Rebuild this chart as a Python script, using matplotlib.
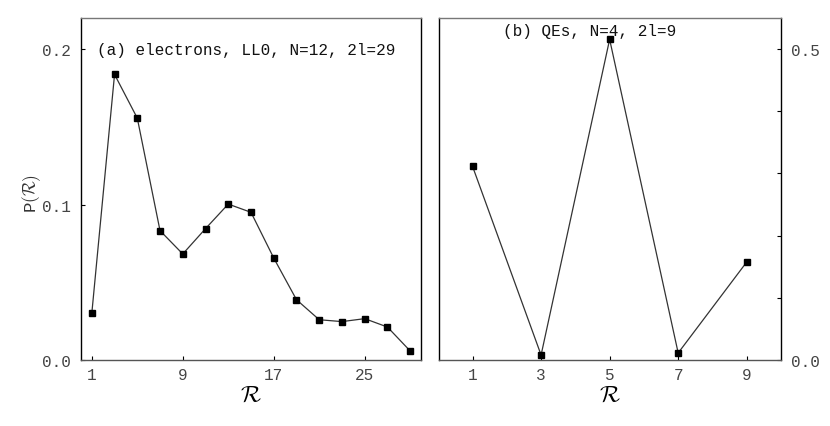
import matplotlib
matplotlib.use("Agg")
import matplotlib.pyplot as plt

plt.rcParams['mathtext.fontset'] = 'cm'

# Panel (a): electrons, LL0, N=12, 2l=29
R_a = [1, 3, 5, 7, 9, 11, 13, 15, 17, 19, 21, 23, 25, 27, 29]
P_a = [0.030, 0.1837, 0.1556, 0.0832, 0.0682, 0.0845, 0.1003, 0.0950,
       0.0656, 0.0388, 0.0259, 0.0247, 0.0266, 0.0212, 0.0058]
xticks_a = [1, 9, 17, 25]
yticks_a = [0.0, 0.1, 0.2]
yticklabels_a = ["0.0", "0.1", "0.2"]

# Panel (b): QEs, N=4, 2l=9
R_b = [1, 3, 5, 7, 9]
P_b = [0.3114, 0.008, 0.5156, 0.0113, 0.1576]
xticks_b = [1, 3, 5, 7, 9]
yticks_b = [0.0, 0.1, 0.2, 0.3, 0.4, 0.5]
yticklabels_b = ["0.0", "", "", "", "", "0.5"]

title_a = "(a) electrons, LL0, N=12, 2l=29"
title_b = "(b) QEs, N=4, 2l=9"

mono = "Liberation Mono"
fs = 11.5
tick_col = "#444444"

fig = plt.figure(figsize=(8.3, 4.27), dpi=100)
ax1 = fig.add_axes([81/830, 1-361/427, (421-81)/830, (361-19)/427])
ax2 = fig.add_axes([439.3/830, 1-361/427, (781-439.3)/830, (361-19)/427])

line_kw = dict(color="#333333", lw=0.9, marker="s", ms=4.6,
               mfc="black", mec="black", clip_on=False)

ax1.plot(R_a, P_a, **line_kw)
ax1.set_xlim(0.05, 29.95)
ax1.set_ylim(0, 0.22)
ax1.set_xticks(xticks_a)
ax1.set_xticklabels([str(v) for v in xticks_a])
ax1.set_yticks(yticks_a)
ax1.set_yticklabels(yticklabels_a)
ax1.tick_params(direction="in", length=3, width=0.8, colors="black",
                labelcolor=tick_col, labelsize=fs)
ax1.tick_params(axis="y", pad=7)
ax1.tick_params(axis="x", pad=5)
for lab in ax1.get_xticklabels() + ax1.get_yticklabels():
    lab.set_family(mono)
ax1.set_xlabel(r"$\mathcal{R}$", fontsize=17, labelpad=-1)
ax1.set_ylabel(r"P$(\mathcal{R})$", fontsize=12.5, family=mono, labelpad=2,
               color="#333333")
ax1.yaxis.set_label_coords(-0.111, 0.49)
ax1.text(1.0 + (97 - 91.7) / 11.39, 0.2, title_a, family=mono, fontsize=fs,
         va="center", ha="left", color="#111111")

ax2.plot(R_b, P_b, **line_kw)
ax2.set_xlim(0.03, 10.0)
ax2.set_ylim(0, 0.55)
ax2.set_xticks(xticks_b)
ax2.set_xticklabels([str(v) for v in xticks_b])
ax2.yaxis.tick_right()
ax2.set_yticks(yticks_b)
ax2.set_yticklabels(yticklabels_b)
ax2.tick_params(direction="in", length=3, width=0.8, colors="black",
                labelcolor=tick_col, labelsize=fs)
ax2.tick_params(axis="y", pad=7)
ax2.tick_params(axis="x", pad=5)
for lab in ax2.get_xticklabels() + ax2.get_yticklabels():
    lab.set_family(mono)
ax2.set_xlabel(r"$\mathcal{R}$", fontsize=17, labelpad=-1)
ax2.text(1.0 + (502.7 - 472.7) / 34.2, 0.962, title_b, family=mono,
         fontsize=fs, va="center", ha="left", color="#111111",
         transform=ax2.get_xaxis_transform())

for ax in (ax1, ax2):
    ax.spines["top"].set_color("#777777")
    ax.spines["bottom"].set_color("#555555")
    ax.spines["left"].set_color("black")
    ax.spines["right"].set_color("black")
    for s in ax.spines.values():
        s.set_linewidth(1.0)

fig.savefig("out.png", dpi=100)
